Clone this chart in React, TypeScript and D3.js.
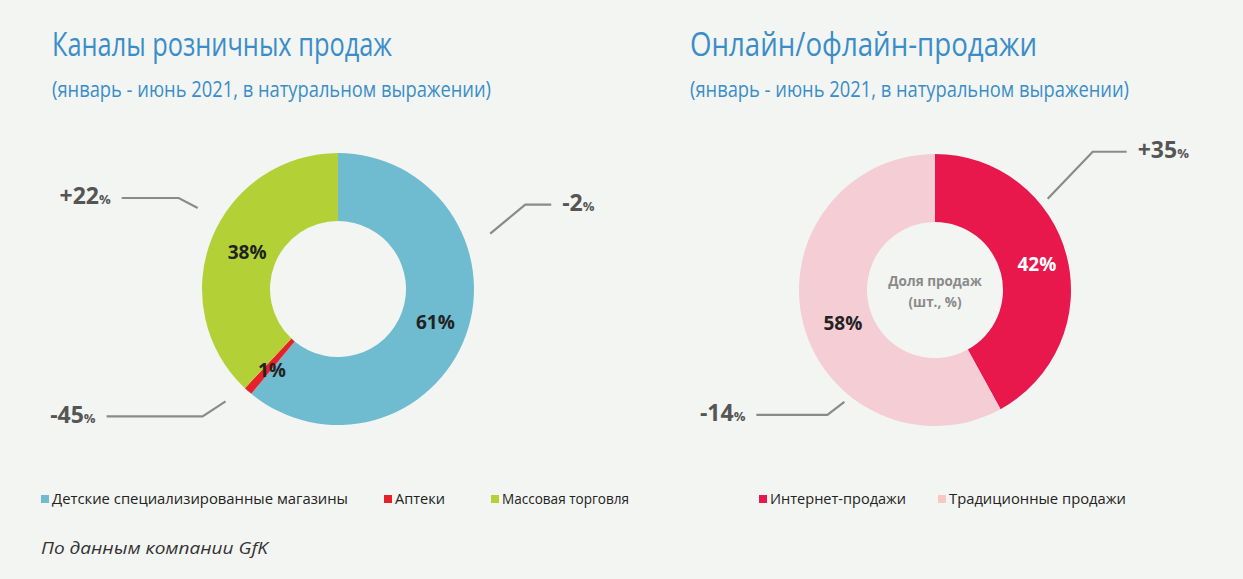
import React from 'react';
import * as d3 from 'd3';

const W = 1243;
const H = 579;
const BG = '#f3f5f2';
const FONT = '"Open Sans", "Noto Sans", sans-serif';

// Retail channels (share of unit sales, change y/y)
const retailCategories = ['Детские специализированные магазины', 'Аптеки', 'Массовая торговля'];
const retailShares = [61, 1, 38];
const retailChanges = ['-2', '-45', '+22'];
const retailColors = ['#6fbbd0', '#e8202a', '#b3d136'];

// Online vs offline
const onlineCategories = ['Интернет-продажи', 'Традиционные продажи'];
const onlineShares = [42, 58];
const onlineChanges = ['+35', '-14'];
const onlineColors = ['#e8184c', '#f5cdd5'];
const onlineLegendColors = ['#e8184c', '#f9c8c4'];

type Callout = { angle: number; r: number; elbow: [number, number]; run: number };

// leader line geometry per slice: start on a ring, bend, then horizontal run
const retailCallouts: Callout[] = [
  { angle: 70, r: 162, elbow: [35, -29], run: 26 },
  { angle: 225, r: 159, elbow: [-23, 15], run: -96 },
  { angle: 300, r: 162, elbow: [-19, -10], run: -57 },
];
const onlineCallouts: Callout[] = [
  { angle: 51, r: 145, elbow: [45, -47], run: 34 },
  { angle: 219, r: 144, elbow: [-17, 13], run: -71 },
];

type DonutProps = {
  cx: number;
  cy: number;
  shares: number[];
  colors: string[];
  changes: string[];
  callouts: Callout[];
  labelColors: string[];
  labelR: number[];
  labelAngle: number[];
  center?: string[];
};

function Donut({ cx, cy, shares, colors, changes, callouts, labelColors, labelR, labelAngle, center }: DonutProps) {
  const outer = 136;
  const inner = 68;
  const pie = d3.pie<number>().sort(null).value(d => d);
  const arcs = pie(shares);
  const arc = d3.arc<d3.PieArcDatum<number>>().innerRadius(inner).outerRadius(outer);
  const rad = (deg: number) => (deg * Math.PI) / 180;

  return (
    <g transform={`translate(${cx},${cy})`}>
      {arcs.map((a, i) => (
        <path key={i} d={arc(a) || ''} fill={colors[i]} />
      ))}
      {arcs.map((a, i) => {
        const ang = labelAngle[i] != null ? rad(labelAngle[i]) : (a.startAngle + a.endAngle) / 2;
        const x = Math.sin(ang) * labelR[i];
        const y = -Math.cos(ang) * labelR[i];
        return (
          <text key={i} x={x} y={y} dy="0.35em" textAnchor="middle" fontFamily={FONT}
            fontWeight={700} fontSize={19} fill={labelColors[i]}>
            {shares[i]}%
          </text>
        );
      })}
      {callouts.map((c, i) => {
        const x0 = Math.sin(rad(c.angle)) * c.r;
        const y0 = -Math.cos(rad(c.angle)) * c.r;
        const x1 = x0 + c.elbow[0];
        const y1 = y0 + c.elbow[1];
        const x2 = x1 + c.run;
        const right = c.run > 0;
        return (
          <g key={i}>
            <polyline points={`${x0},${y0} ${x1},${y1} ${x2},${y1}`} fill="none" stroke="#8a8a8a" strokeWidth={2.2} />
            <text x={right ? x2 + 11 : x2 - 11} y={y1} dy="0.38em" textAnchor={right ? 'start' : 'end'}
              fontFamily={FONT} fontWeight={700} fill="#555">
              <tspan fontSize={23}>{changes[i]}</tspan>
              <tspan fontSize={13}>%</tspan>
            </text>
          </g>
        );
      })}
      {center && center.map((t, i) => (
        <text key={i} x={0} y={-9 + i * 21} dy="0.35em" textAnchor="middle" fontFamily={FONT}
          fontWeight={700} fontSize={13.5} fill="#8a8a8a">
          {t}
        </text>
      ))}
    </g>
  );
}

function Legend({ x, y, items, colors, gaps, widths }: { x: number; y: number; items: string[]; colors: string[]; gaps: number[]; widths: number[] }) {
  return (
    <g transform={`translate(${x},${y})`}>
      {items.map((t, i) => (
        <g key={i} transform={`translate(${gaps[i]},0)`}>
          <rect x={0} y={-9} width={8} height={8} fill={colors[i]} />
          <text x={11} y={0} fontFamily={FONT} fontSize={14.5} fill="#222"
            textLength={widths[i]} lengthAdjust="spacingAndGlyphs">{t}</text>
        </g>
      ))}
    </g>
  );
}

export default function App() {
  return (
    <svg width={W} height={H} style={{ position: 'absolute', left: 0, top: 0, display: 'block' }}>
      <rect width={W} height={H} fill={BG} />

      <text x={52} y={56} fontFamily={FONT} fontSize={33} fill="#3a8dc9" textLength={340} lengthAdjust="spacingAndGlyphs">
        Каналы розничных продаж
      </text>
      <text x={52} y={97} fontFamily={FONT} fontSize={21} fill="#3a8dc9" textLength={439} lengthAdjust="spacingAndGlyphs">
        (январь - июнь 2021, в натуральном выражении)
      </text>
      <text x={690} y={56} fontFamily={FONT} fontSize={33} fill="#3a8dc9" textLength={347} lengthAdjust="spacingAndGlyphs">
        Онлайн/офлайн-продажи
      </text>
      <text x={690} y={97} fontFamily={FONT} fontSize={21} fill="#3a8dc9" textLength={439} lengthAdjust="spacingAndGlyphs">
        (январь - июнь 2021, в натуральном выражении)
      </text>

      <Donut cx={338} cy={289} shares={retailShares} colors={retailColors} changes={retailChanges}
        callouts={retailCallouts} labelColors={['#222', '#222', '#222']}
        labelR={[103, 105, 98]} labelAngle={[109, 219, 292]} />
      <Donut cx={935} cy={290} shares={onlineShares} colors={onlineColors} changes={onlineChanges}
        callouts={onlineCallouts} labelColors={['#fff', '#222']}
        labelR={[105, 98]} labelAngle={[76, 250]} center={['Доля продаж', '(шт., %)']} />

      <Legend x={41} y={504} items={retailCategories} colors={retailColors} gaps={[0, 343, 450]} widths={[296, 50, 127]} />
      <Legend x={759} y={504} items={onlineCategories} colors={onlineLegendColors} gaps={[0, 179]} widths={[136, 177]} />

      <text x={41} y={554} fontFamily={FONT} fontStyle="italic" fontSize={17} fill="#333"
        textLength={227} lengthAdjust="spacingAndGlyphs">
        По данным компании GfK
      </text>
    </svg>
  );
}
